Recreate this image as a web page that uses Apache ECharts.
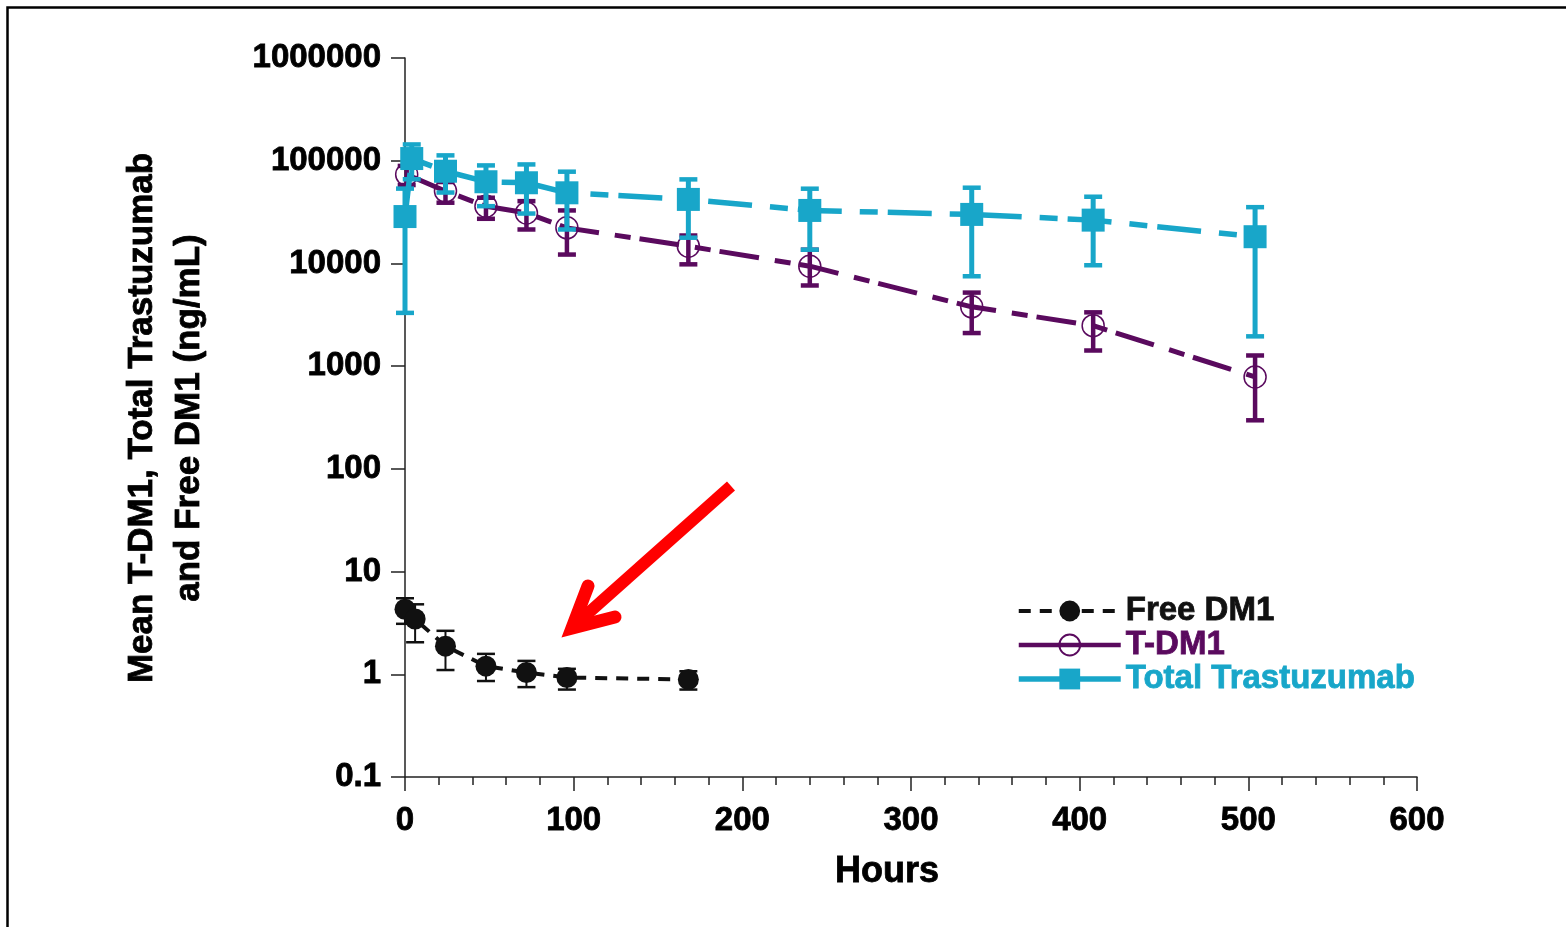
<!DOCTYPE html>
<html><head><meta charset="utf-8">
<script src="https://cdn.jsdelivr.net/npm/echarts@6.0.0/dist/echarts.min.js"></script>
<style>html,body{margin:0;padding:0;background:#fff;}#c{width:1566px;height:927px;}</style>
</head><body><div id="c"></div>
<script>
const xTicks = [0, 100, 200, 300, 400, 500, 600];
const yTickLabels = ['0.1', '1', '10', '100', '1000', '10000', '100000', '1000000'];

const freeHours = [0, 6, 24, 48, 72, 96, 168];
const freeMean = [4.3, 3.45, 1.88, 1.2, 1.04, 0.93, 0.89];
const freeLow = [3.1, 2.05, 1.1, 0.86, 0.75, 0.71, 0.71];
const freeHigh = [5.5, 4.8, 2.65, 1.58, 1.35, 1.13, 1.07];

const tdm1Hours = [1, 24, 48, 72, 96, 168, 240, 336, 408, 504];
const tdm1Mean = [73500, 50600, 36000, 31000, 22200, 14700, 9400, 3780, 2480, 785];
const tdm1Low = [58000, 39000, 27200, 21400, 12200, 9800, 6100, 2100, 1420, 297];
const tdm1High = [89000, 62000, 43600, 40400, 32800, 18700, 13600, 5200, 3340, 1270];

const ttHours = [0, 4, 24, 48, 72, 96, 168, 240, 336, 408, 504];
const ttMean = [28600, 105000, 79000, 62400, 61000, 48700, 42000, 32800, 30000, 26400, 18200];
const ttLow = [3300, 66000, 49000, 36100, 30600, 21400, 17800, 13600, 7500, 9600, 1950];
const ttHigh = [53500, 144000, 112700, 90000, 92000, 78200, 65800, 53400, 54600, 44600, 35300];

const BLACK = '#111111';
const PURPLE = '#5a0a5e';
const CYAN = '#18a6c9';
const FONT = '"Liberation Sans", Arial, sans-serif';

function pairs(h, v) { return h.map((x, i) => [x, v[i]]); }

function errSeries(name, hours, low, high, color, stemW, capW, capLW, z) {
  return {
    type: 'custom', name: name, z: z, silent: true,
    data: hours.map((h, i) => [h, low[i], high[i]]),
    encode: { x: 0, y: [1, 2] },
    renderItem: function (params, api) {
      const x = api.value(0);
      const lo = api.coord([x, api.value(1)]);
      const hi = api.coord([x, api.value(2)]);
      const half = capW / 2;
      return {
        type: 'group', children: [
          { type: 'line', shape: { x1: lo[0], y1: lo[1], x2: hi[0], y2: hi[1] }, style: { stroke: color, lineWidth: stemW } },
          { type: 'line', shape: { x1: lo[0] - half, y1: lo[1], x2: lo[0] + half, y2: lo[1] }, style: { stroke: color, lineWidth: capLW } },
          { type: 'line', shape: { x1: hi[0] - half, y1: hi[1], x2: hi[0] + half, y2: hi[1] }, style: { stroke: color, lineWidth: capLW } }
        ]
      };
    }
  };
}

const chart = echarts.init(document.getElementById('c'), null, { renderer: 'canvas' });
chart.setOption({
  animation: false,
  backgroundColor: '#ffffff',
  grid: { left: 405, right: 149, top: 58, bottom: 150 },
  xAxis: {
    type: 'value', min: 0, max: 600, interval: 100,
    axisLine: { show: true, onZero: false, lineStyle: { color: '#222', width: 1.5 } },
    axisTick: { show: true, length: 14, lineStyle: { color: '#222', width: 1.5 } },
    minorTick: { show: true, splitNumber: 5, length: 8, lineStyle: { color: '#222', width: 1.5 } },
    splitLine: { show: false },
    axisLabel: {
      color: '#000', fontSize: 33, fontWeight: 'bold', fontFamily: FONT, margin: 27,
      textBorderColor: '#000', textBorderWidth: 0.8,
      formatter: function (v) { return xTicks.indexOf(v) >= 0 ? String(v) : ''; }
    }
  },
  yAxis: {
    type: 'log', logBase: 10, min: 0.1, max: 1000000, splitNumber: 7,
    axisLine: { show: true, lineStyle: { color: '#222', width: 1.5 } },
    axisTick: { show: true, length: 14, lineStyle: { color: '#222', width: 1.5 } },
    splitLine: { show: false },
    axisLabel: {
      color: '#000', fontSize: 33, fontWeight: 'bold', fontFamily: FONT, margin: 24,
      textBorderColor: '#000', textBorderWidth: 0.8,
      formatter: function (v) { const i = Math.round(Math.log10(v)) + 1; return yTickLabels[i] || ''; }
    }
  },
  legend: {
    orient: 'vertical', left: 1011, top: 589, itemWidth: 102, itemHeight: 26, itemGap: 0,
    selectedMode: false,
    textStyle: { fontSize: 33, fontWeight: 'bold', fontFamily: FONT, lineHeight: 34 },
    data: [
      { name: 'Free DM1', textStyle: { color: BLACK, textBorderColor: BLACK, textBorderWidth: 0.8 }, lineStyle: { width: 4, type: [12, 9] } },
      { name: 'T-DM1', textStyle: { color: PURPLE, textBorderColor: PURPLE, textBorderWidth: 0.8 }, lineStyle: { type: 'solid', width: 4.5 } },
      { name: 'Total Trastuzumab', textStyle: { color: CYAN, textBorderColor: CYAN, textBorderWidth: 0.8 }, lineStyle: { type: 'solid', width: 5.5 } }
    ]
  },
  series: [
    errSeries('Free DM1 SD', freeHours, freeLow, freeHigh, BLACK, 2, 18, 2.5, 2),
    {
      type: 'line', name: 'Free DM1', z: 2, data: pairs(freeHours, freeMean),
      symbol: 'circle', symbolSize: 21, itemStyle: { color: BLACK },
      lineStyle: { color: BLACK, width: 4, type: [12, 9] }
    },
    errSeries('T-DM1 SD', tdm1Hours, tdm1Low, tdm1High, PURPLE, 4.5, 18, 4.5, 3),
    {
      type: 'line', name: 'T-DM1', z: 3, data: pairs(tdm1Hours, tdm1Mean),
      symbol: 'circle', symbolSize: 22,
      itemStyle: { color: 'rgba(255,255,255,0)', borderColor: PURPLE, borderWidth: 1.5 },
      lineStyle: { color: PURPLE, width: 5, type: [40, 16, 16, 9] }
    },
    errSeries('Total Trastuzumab SD', ttHours, ttLow, ttHigh, CYAN, 5, 18, 4.5, 4),
    {
      type: 'line', name: 'Total Trastuzumab', z: 4, data: pairs(ttHours, ttMean),
      symbol: 'rect', symbolSize: 23, itemStyle: { color: CYAN },
      lineStyle: { color: CYAN, width: 5.5, type: [44, 18, 18, 10] }
    }
  ],
  graphic: [
    { type: 'rect', silent: true, shape: { x: 7.5, y: 7.5, width: 1700, height: 1100 },
      style: { fill: 'none', stroke: '#000', lineWidth: 2.5 } },
    { type: 'text', silent: true, x: 166, y: 418, rotation: Math.PI / 2,
      style: { text: 'Mean T-DM1, Total Trastuzumab\nand Free DM1 (ng/mL)', align: 'center', verticalAlign: 'middle',
        font: 'bold 35px ' + FONT, lineHeight: 47, fill: '#000', stroke: '#000', lineWidth: 0.8 } },
    { type: 'text', silent: true, x: 887, y: 872,
      style: { text: 'Hours', align: 'center', verticalAlign: 'middle', font: 'bold 36px ' + FONT, fill: '#000', stroke: '#000', lineWidth: 0.8 } },
    { type: 'polyline', silent: true, shape: { points: [[731, 486], [576, 624]] },
      style: { stroke: '#ff0000', lineWidth: 12, lineCap: 'butt', fill: 'none' } },
    { type: 'polyline', silent: true, shape: { points: [[588, 586], [572, 628], [615, 617]] },
      style: { stroke: '#ff0000', lineWidth: 13, lineCap: 'round', lineJoin: 'miter', fill: 'none' } }
  ]
});
</script>
</body></html>
